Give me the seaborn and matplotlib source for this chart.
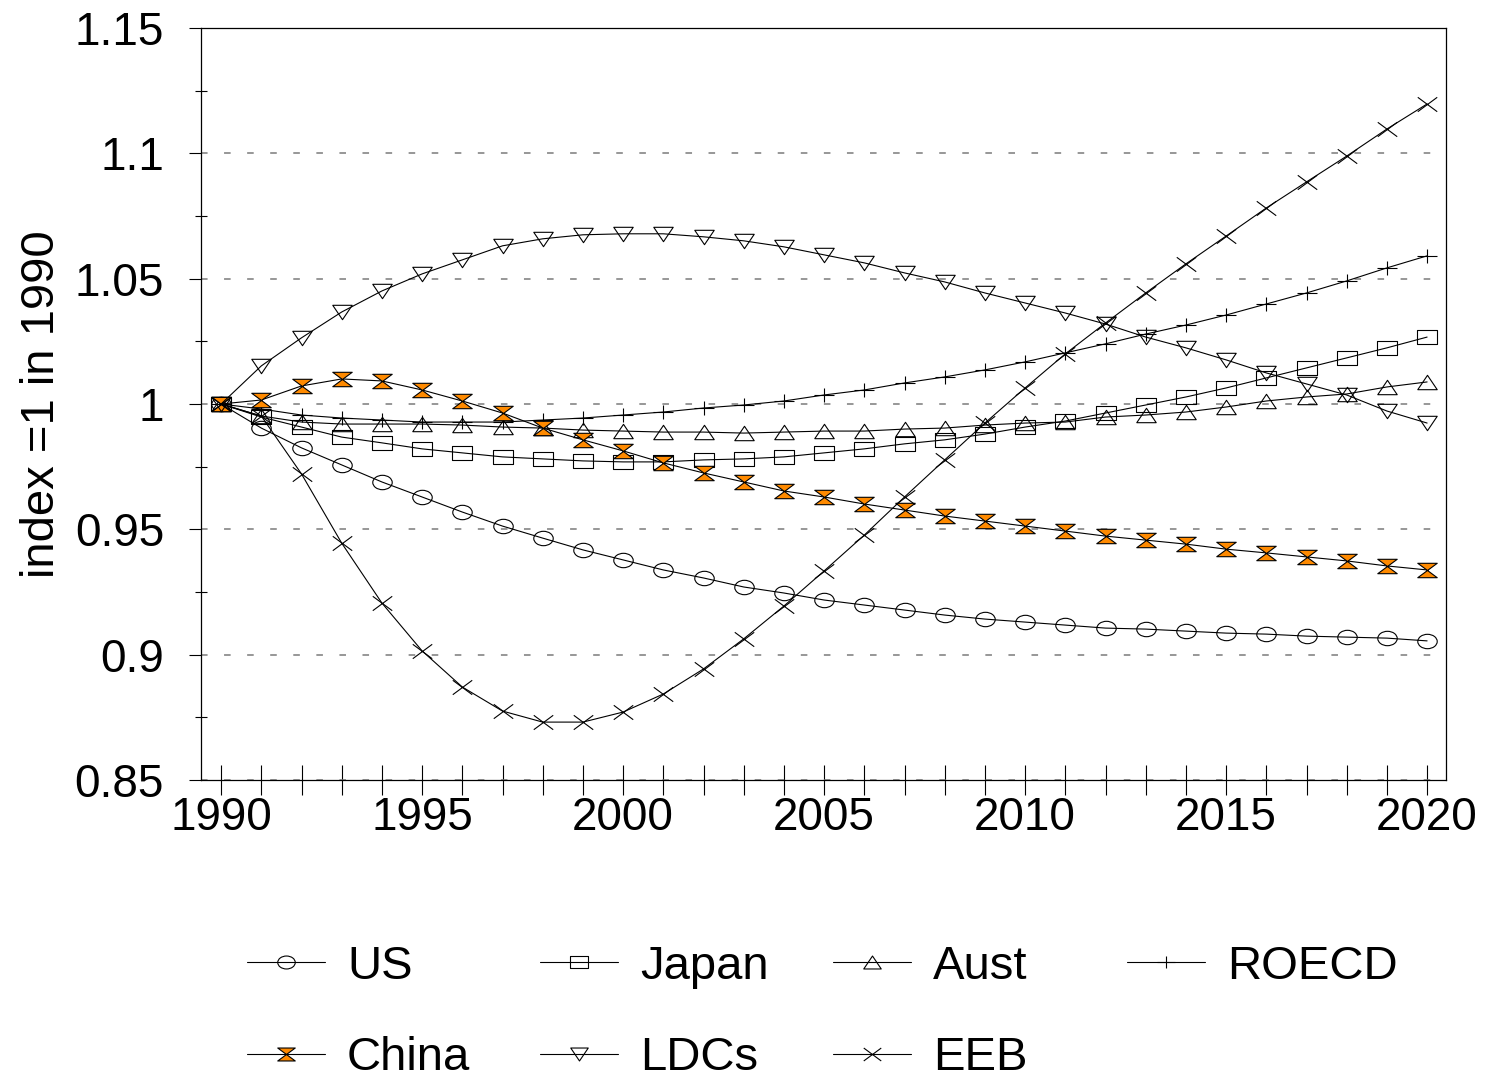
import numpy as np
import pandas as pd
import matplotlib
matplotlib.use("Agg")
import matplotlib.pyplot as plt
from matplotlib.path import Path
from matplotlib.transforms import Affine2D
from matplotlib.ticker import MultipleLocator
import seaborn as sns

# ---------------- data ----------------
years = list(range(1990, 2021))

us = [1.0, 0.9904, 0.9825, 0.9757, 0.9689, 0.9629, 0.9569, 0.9513, 0.9465, 0.9418,
      0.9378, 0.9338, 0.9306, 0.9270, 0.9246, 0.9218, 0.9198, 0.9178, 0.9158, 0.9142,
      0.9130, 0.9118, 0.9106, 0.9102, 0.9094, 0.9086, 0.9082, 0.9074, 0.9070, 0.9066,
      0.9055]
japan = [1.0, 0.9948, 0.9908, 0.9868, 0.9845, 0.9821, 0.9805, 0.9789, 0.9781, 0.9773,
         0.9769, 0.9769, 0.9777, 0.9781, 0.9789, 0.9805, 0.9821, 0.9841, 0.9857, 0.9880,
         0.9908, 0.9932, 0.9964, 0.9996, 1.0028, 1.0064, 1.0104, 1.0144, 1.0184, 1.0224,
         1.0267]
aust = [1.0, 0.9952, 0.9928, 0.9920, 0.9920, 0.9920, 0.9916, 0.9908, 0.9904, 0.9896,
        0.9892, 0.9888, 0.9888, 0.9884, 0.9888, 0.9892, 0.9892, 0.9900, 0.9904, 0.9916,
        0.9924, 0.9928, 0.9948, 0.9956, 0.9968, 0.9988, 1.0012, 1.0028, 1.0040, 1.0068,
        1.0088]
roecd = [1.0, 0.9980, 0.9956, 0.9944, 0.9936, 0.9928, 0.9928, 0.9928, 0.9936, 0.9944,
         0.9956, 0.9968, 0.9984, 0.9996, 1.0012, 1.0036, 1.0056, 1.0084, 1.0108, 1.0136,
         1.0168, 1.0204, 1.0240, 1.0279, 1.0315, 1.0355, 1.0399, 1.0443, 1.0491, 1.0543,
         1.0591]
china = [1.0, 1.0016, 1.0072, 1.0100, 1.0092, 1.0056, 1.0012, 0.9964, 0.9904, 0.9857,
         0.9813, 0.9765, 0.9725, 0.9689, 0.9653, 0.9629, 0.9601, 0.9577, 0.9553, 0.9533,
         0.9513, 0.9493, 0.9473, 0.9457, 0.9441, 0.9421, 0.9406, 0.9390, 0.9374, 0.9354,
         0.9338]
ldcs = [1.0, 1.0152, 1.0264, 1.0367, 1.0451, 1.0519, 1.0575, 1.0631, 1.0659, 1.0675,
        1.0679, 1.0679, 1.0667, 1.0651, 1.0627, 1.0595, 1.0563, 1.0523, 1.0487, 1.0443,
        1.0403, 1.0363, 1.0319, 1.0267, 1.0224, 1.0176, 1.0124, 1.0080, 1.0036, 0.9972,
        0.9924]
eeb = [1.0, 0.9952, 0.9721, 0.9445, 0.9206, 0.9015, 0.8871, 0.8775, 0.8731, 0.8731,
       0.8771, 0.8843, 0.8943, 0.9063, 0.9194, 0.9334, 0.9477, 0.9629, 0.9777, 0.9924,
       1.0064, 1.0200, 1.0323, 1.0443, 1.0559, 1.0670, 1.0782, 1.0886, 1.0989, 1.1097,
       1.1197]

names = ["US", "Japan", "Aust", "ROECD", "China", "LDCs", "EEB"]
ytick_values = [0.85, 0.9, 0.95, 1.0, 1.05, 1.1, 1.15]
ytick_labels = ["0.85", "0.9", "0.95", "1", "1.05", "1.1", "1.15"]
xtick_values = [1990, 1995, 2000, 2005, 2010, 2015, 2020]
ylabel = "index =1 in 1990"

# ---------------- markers (wide, flat shapes) ----------------
A = 0.74
M, L, C = Path.MOVETO, Path.LINETO, Path.CLOSEPOLY
ellipse = Affine2D().scale(1, A).transform_path(Path.unit_circle())
rect = Path([(-1, -A), (1, -A), (1, A), (-1, A), (-1, -A)], [M, L, L, L, C])
tri_up = Path([(0, A), (-1, -A), (1, -A), (0, A)], [M, L, L, C])
tri_down = Path([(0, -A), (1, A), (-1, A), (0, -A)], [M, L, L, C])
plus = Path([(-1, 0), (1, 0), (0, -A), (0, A)], [M, L, M, L])
cross = Path([(-1, -A), (1, A), (-1, A), (1, -A)], [M, L, M, L])
hourglass = Path([(-1, A), (1, A), (0, 0), (-1, A),
                  (0, 0), (1, -A), (-1, -A), (0, 0)],
                 [M, L, L, C, M, L, L, C])

ORANGE = "#FF8A00"
series = [
    ("US", us, ellipse, "none"),
    ("Japan", japan, rect, "none"),
    ("Aust", aust, tri_up, "none"),
    ("ROECD", roecd, plus, "none"),
    ("China", china, hourglass, ORANGE),
    ("LDCs", ldcs, tri_down, "none"),
    ("EEB", eeb, cross, "none"),
]

# ---------------- style ----------------
sns.set_style("white")
plt.rcParams["font.family"] = ["Liberation Sans", "DejaVu Sans"]
plt.rcParams["axes.edgecolor"] = "black"
plt.rcParams["axes.linewidth"] = 0.9
plt.rcParams["text.color"] = "black"
plt.rcParams["axes.labelcolor"] = "black"
plt.rcParams["xtick.color"] = "black"
plt.rcParams["ytick.color"] = "black"
plt.rcParams["xtick.labelcolor"] = "black"
plt.rcParams["ytick.labelcolor"] = "black"

W, H = 1490, 1080
fig = plt.figure(figsize=(W / 100, H / 100), dpi=100)
ax = fig.add_axes([201 / W, 1 - 780 / H, (1446 - 201) / W, (780 - 28) / H])

lines = []
for name, vals, mk, fc in series:
    sns.lineplot(x=years, y=vals, ax=ax, color="black", linewidth=0.8,
                 marker=mk, markersize=14, markerfacecolor=fc,
                 markeredgecolor="black", markeredgewidth=0.8,
                 errorbar=None, legend=False)
    lines.append(ax.lines[-1])

ax.set_xlim(1989.5, 2020.47)
ax.set_ylim(0.85, 1.15)

for s in ax.spines.values():
    s.set_visible(True)
    s.set_color("black")

ax.set_yticks(ytick_values, labels=ytick_labels)
ax.yaxis.set_minor_locator(MultipleLocator(0.025))
ax.set_xticks(xtick_values, labels=[str(v) for v in xtick_values])
ax.xaxis.set_minor_locator(MultipleLocator(1))

ax.tick_params(axis="y", which="major", left=True, direction="out", length=8.6,
               width=0.8, labelsize=33, pad=18, color="black", labelcolor="black")
ax.tick_params(axis="y", which="minor", left=True, direction="inout", length=8,
               width=0.8, color="black")
ax.tick_params(axis="x", which="both", bottom=True, direction="inout", length=21.6,
               width=0.8, color="black")
ax.tick_params(axis="x", which="major", labelsize=33, pad=1, labelcolor="black")

ax.yaxis.grid(True, which="major", color="#7a7a7a", linestyle=(0, (4.3, 10.8)),
              linewidth=1.1)
ax.xaxis.grid(False)
ax.set_axisbelow(True)

ax.set_xlabel("")
ax.set_ylabel(ylabel, fontsize=34, labelpad=8, color="black")

# ---------------- legend (4 columns x 2 rows) ----------------
cols = [[0, 4], [1, 5], [2, 6], [3]]
col_x = [247, 540, 833, 1127]
for c, idx in enumerate(cols):
    leg = fig.legend([lines[i] for i in idx], [names[i] for i in idx],
                     loc="upper left", bbox_to_anchor=(col_x[c] / W, 1 - 945 / H),
                     frameon=False, borderpad=0, borderaxespad=0,
                     handlelength=1.65, handletextpad=0.47, labelspacing=1.0,
                     markerscale=0.9, fontsize=34)
    for t in leg.get_texts():
        t.set_color("black")

fig.savefig("out.png", dpi=100)
